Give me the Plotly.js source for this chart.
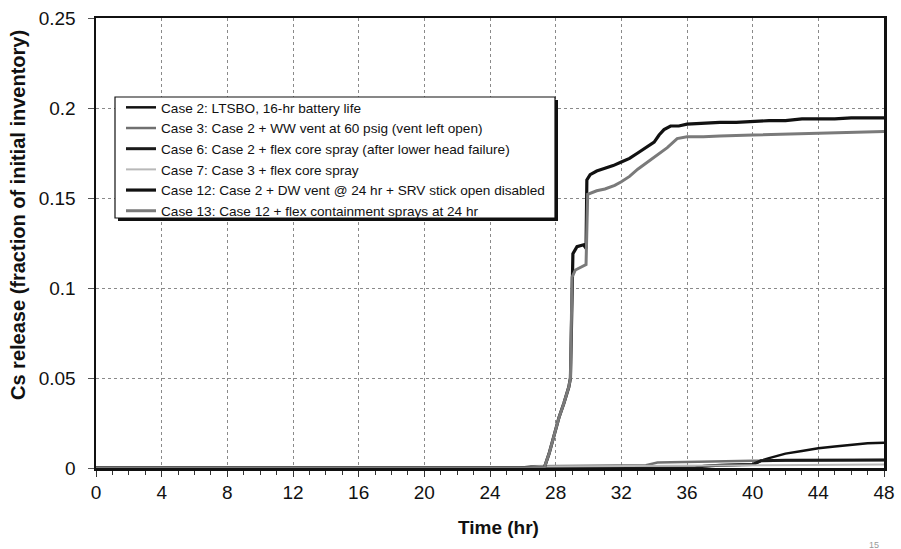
<!DOCTYPE html>
<html>
<head>
<meta charset="utf-8">
<script src="https://cdn.plot.ly/plotly-3.0.1.min.js"></script>
<style>
html,body{margin:0;padding:0;background:#fff;}
#chart{width:901px;height:549px;}
</style>
</head>
<body>
<div id="chart"></div>
<script>
// ---- data ----
const legendNames = [
  "Case 2: LTSBO, 16-hr battery life",
  "Case 3: Case 2 + WW vent at 60 psig (vent left open)",
  "Case 6: Case 2 + flex core spray (after lower head failure)",
  "Case 7: Case 3 + flex core spray",
  "Case 12: Case 2 + DW vent @ 24 hr + SRV stick open disabled",
  "Case 13: Case 12 + flex containment sprays at 24 hr"
];

const case2T = [0, 36.5, 37, 38, 40, 40.5, 41, 42, 43, 44, 45, 46, 47, 48];
const case2V = [0, 0, 0.001, 0.0015, 0.002, 0.004, 0.0055, 0.008, 0.0095, 0.011, 0.012, 0.013, 0.0137, 0.014];

const case3T = [0, 25.8, 26.5, 30, 33.5, 34.2, 36, 38, 40, 44, 48];
const case3V = [0, 0, 0.001, 0.0012, 0.0015, 0.003, 0.0033, 0.0036, 0.004, 0.0042, 0.0044];

const case6T = [0, 36.5, 37, 38, 40, 40.5, 42, 44, 46, 48];
const case6V = [0, 0, 0.001, 0.0015, 0.002, 0.004, 0.0043, 0.0044, 0.0045, 0.0045];

const case7T = [0, 26, 27, 30, 34, 38, 42, 48];
const case7V = [0, 0, 0.0008, 0.001, 0.0012, 0.0015, 0.0017, 0.002];

const case12T = [0, 27.3, 27.6, 27.9, 28.2, 28.5, 28.8, 28.9, 29.0, 29.05, 29.3, 29.7, 29.85, 29.9, 30.1, 30.5, 31, 31.5, 32, 32.5, 33, 33.5, 34, 34.3, 34.6, 35, 35.5, 36, 37, 38, 39, 40, 41, 42, 43, 44, 45, 46, 47, 48];
const case12V = [0, 0, 0.008, 0.018, 0.028, 0.036, 0.045, 0.05, 0.106, 0.119, 0.123, 0.124, 0.122, 0.16, 0.163, 0.165, 0.1665, 0.168, 0.17, 0.172, 0.175, 0.178, 0.181, 0.185, 0.188, 0.19, 0.19, 0.191, 0.1915, 0.192, 0.192, 0.1925, 0.193, 0.193, 0.194, 0.194, 0.194, 0.1945, 0.1945, 0.1945];

const case13T = [0, 27.3, 27.6, 27.9, 28.2, 28.5, 28.8, 28.9, 29.0, 29.2, 29.85, 29.95, 30.5, 31, 31.6, 32, 32.5, 33, 33.3, 34, 34.8, 35.4, 36, 37, 38, 40, 42, 44, 46, 48];
const case13V = [0, 0, 0.008, 0.018, 0.028, 0.036, 0.045, 0.05, 0.106, 0.11, 0.113, 0.152, 0.154, 0.155, 0.157, 0.159, 0.162, 0.166, 0.168, 0.173, 0.178, 0.183, 0.184, 0.184, 0.1845, 0.185, 0.1855, 0.186, 0.1865, 0.187];

const xTicks = [0, 4, 8, 12, 16, 20, 24, 28, 32, 36, 40, 44, 48];
const yTicks = [0, 0.05, 0.1, 0.15, 0.2, 0.25];
const yTickText = ["0", "0.05", "0.1", "0.15", "0.2", "0.25"];

// ---- styles ----
const styles = [
  {color: "#111111", width: 2.5},
  {color: "#707070", width: 2.5},
  {color: "#1a1a1a", width: 3},
  {color: "#b8b8b8", width: 2},
  {color: "#111111", width: 3.2},
  {color: "#7a7a7a", width: 3}
];
const seriesT = [case2T, case3T, case6T, case7T, case12T, case13T];
const seriesV = [case2V, case3V, case6V, case7V, case12V, case13V];

const traces = legendNames.map((n, i) => ({
  type: "scatter", mode: "lines", name: n,
  x: seriesT[i], y: seriesV[i],
  line: {color: styles[i].color, width: styles[i].width},
  hoverinfo: "skip"
}));

const font = "Arial, 'Liberation Sans', sans-serif";
const W = 901, H = 549, L = 96, R = 17, T = 18, B = 81;
const pw = W - L - R, ph = H - T - B;
const px2x = p => (p - L) / pw;
const px2y = p => (H - B - p) / ph;

// legend frame (decoration) in pixels
const box = {x0: 115, x1: 555, y0: 97, y1: 218, shadow: 3};

const layout = {
  width: W, height: H,
  margin: {l: L, r: R, t: T, b: B, pad: 0},
  paper_bgcolor: "#ffffff", plot_bgcolor: "#ffffff",
  showlegend: true,
  font: {family: font, color: "#111"},
  xaxis: {
    range: [0, 48], tickvals: xTicks, ticktext: xTicks.map(String),
    showgrid: true, gridcolor: "#8a8a8a", griddash: "dot", gridwidth: 1,
    zeroline: false, showline: true, linecolor: "#111", linewidth: 2.5, mirror: true,
    ticks: "outside", ticklen: 6, tickcolor: "#333", tickwidth: 1,
    minor: {dtick: 1, ticks: "outside", ticklen: 4, tickcolor: "#333", showgrid: false},
    tickfont: {family: font, size: 19, color: "#111"},
    fixedrange: true
  },
  yaxis: {
    range: [0, 0.25], tickvals: yTicks, ticktext: yTickText,
    showgrid: true, gridcolor: "#8a8a8a", griddash: "dot", gridwidth: 1,
    zeroline: false, showline: true, linecolor: "#111", linewidth: 2.5, mirror: true,
    ticks: "outside", ticklen: 6, tickcolor: "#555", tickwidth: 1,
    ticklabelstandoff: 8,
    tickfont: {family: font, size: 19, color: "#111"},
    fixedrange: true
  },
  legend: {
    x: px2x(121), y: px2y(92), xanchor: "left", yanchor: "top",
    bgcolor: "rgba(0,0,0,0)", borderwidth: 0,
    font: {family: font, size: 13.6, color: "#111"},
    tracegroupgap: 0, itemwidth: 30
  },
  annotations: [
    {text: "<b>Cs release (fraction of initial inventory)</b>", textangle: -90,
     xref: "paper", yref: "paper", x: px2x(18), y: px2y(215),
     xanchor: "center", yanchor: "middle", showarrow: false,
     font: {family: font, size: 20, color: "#111"}},
    {text: "<b>Time (hr)</b>",
     xref: "paper", yref: "paper", x: px2x(498), y: px2y(527),
     xanchor: "center", yanchor: "middle", showarrow: false,
     font: {family: font, size: 19, color: "#111"}},
    {text: "15",
     xref: "paper", yref: "paper", x: px2x(874), y: px2y(545),
     xanchor: "center", yanchor: "middle", showarrow: false,
     font: {family: font, size: 9, color: "#999"}}
  ],
  shapes: [
    {type: "rect", xref: "paper", yref: "paper", layer: "above",
     x0: px2x(box.x0 + box.shadow), x1: px2x(box.x1 + box.shadow),
     y0: px2y(box.y1 + box.shadow), y1: px2y(box.y0 + box.shadow),
     fillcolor: "#111", line: {width: 0}},
    {type: "rect", xref: "paper", yref: "paper", layer: "above",
     x0: px2x(box.x0), x1: px2x(box.x1), y0: px2y(box.y1), y1: px2y(box.y0),
     fillcolor: "#ffffff", line: {color: "#111", width: 1.2}}
  ]
};

Plotly.newPlot("chart", traces, layout, {displayModeBar: false, staticPlot: true});
</script>
</body>
</html>
